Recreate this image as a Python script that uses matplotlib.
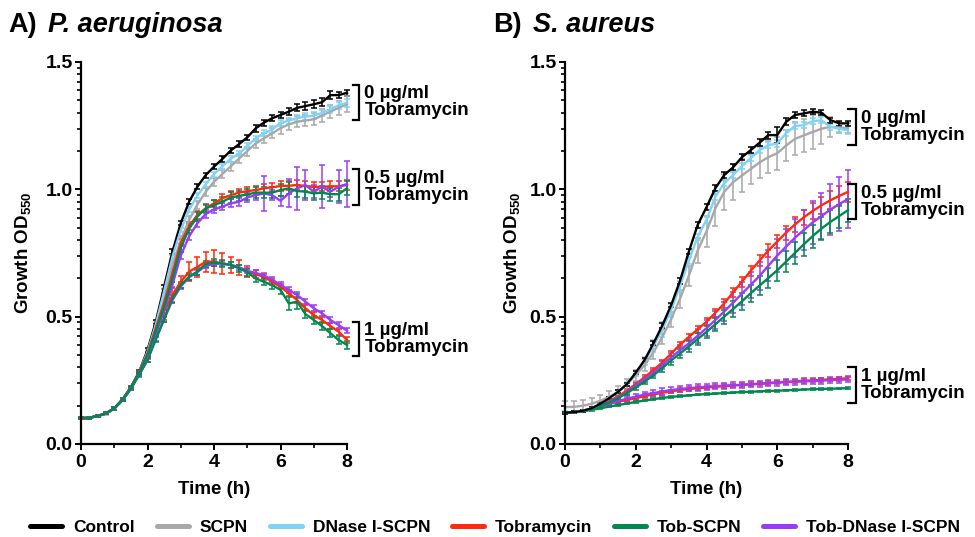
import numpy as np
import matplotlib
matplotlib.use("Agg")
import matplotlib.pyplot as plt
from matplotlib.lines import Line2D

plt.rcParams['font.family'] = ['Liberation Sans', 'DejaVu Sans']
plt.rcParams['font.weight'] = 'bold'
plt.rcParams['mathtext.fontset'] = 'custom'
plt.rcParams['mathtext.rm'] = 'Liberation Sans:bold'
plt.rcParams['mathtext.bf'] = 'Liberation Sans:bold'

# Sampling times (h), every 15 min
time_h = [0.0, 0.25, 0.5, 0.75, 1.0, 1.25, 1.5, 1.75, 2.0, 2.25, 2.5, 2.75, 3.0,
          3.25, 3.5, 3.75, 4.0, 4.25, 4.5, 4.75, 5.0, 5.25, 5.5, 5.75, 6.0,
          6.25, 6.5, 6.75, 7.0, 7.25, 7.5, 7.75, 8.0]

series_names = ["Control", "SCPN", "DNase I-SCPN", "Tobramycin", "Tob-SCPN", "Tob-DNase I-SCPN"]
series_colors = ["#000000", "#a8a8a8", "#7fd3f7", "#ff2a0a", "#00894f", "#9a3cf7"]

# ---------------- P. aeruginosa (OD550) ----------------
pa_control = [0.101, 0.103, 0.110, 0.120, 0.140, 0.175, 0.223, 0.284, 0.369, 0.480, 0.618, 0.755, 0.867,
              0.951, 1.010, 1.056, 1.089, 1.119, 1.152, 1.177, 1.204, 1.239, 1.262, 1.279, 1.292,
              1.305, 1.320, 1.327, 1.334, 1.342, 1.370, 1.370, 1.379]
pa_scpn = [0.101, 0.103, 0.110, 0.120, 0.139, 0.173, 0.219, 0.277, 0.352, 0.455, 0.580, 0.705, 0.800,
           0.880, 0.940, 0.990, 1.030, 1.060, 1.090, 1.120, 1.150, 1.180, 1.200, 1.220, 1.240,
           1.255, 1.265, 1.270, 1.275, 1.290, 1.305, 1.320, 1.335]
pa_dnase = [0.101, 0.103, 0.110, 0.120, 0.140, 0.175, 0.222, 0.282, 0.362, 0.470, 0.600, 0.735, 0.840,
            0.920, 0.975, 1.020, 1.060, 1.090, 1.120, 1.140, 1.170, 1.200, 1.220, 1.235, 1.260,
            1.270, 1.280, 1.285, 1.290, 1.300, 1.315, 1.330, 1.340]
pa_tob05 = [0.101, 0.103, 0.110, 0.120, 0.140, 0.175, 0.222, 0.282, 0.355, 0.455, 0.555, 0.670, 0.790,
            0.855, 0.899, 0.925, 0.945, 0.965, 0.977, 0.987, 0.993, 0.997, 1.004, 1.008, 1.013,
            1.014, 1.017, 1.013, 1.010, 1.010, 1.012, 1.012, 1.017]
pa_tobscpn05 = [0.101, 0.103, 0.110, 0.120, 0.140, 0.175, 0.221, 0.280, 0.350, 0.445, 0.540, 0.650, 0.770,
                0.845, 0.893, 0.925, 0.938, 0.951, 0.968, 0.974, 0.980, 0.987, 0.987, 0.987, 0.997,
                1.004, 0.993, 0.991, 0.984, 0.987, 0.981, 0.981, 1.004]
pa_tobdnase05 = [0.101, 0.103, 0.110, 0.120, 0.140, 0.174, 0.220, 0.278, 0.345, 0.435, 0.525, 0.625, 0.740,
                 0.815, 0.867, 0.903, 0.921, 0.932, 0.945, 0.951, 0.968, 0.977, 0.984, 0.977, 0.955,
                 0.984, 1.004, 1.017, 0.991, 1.010, 0.991, 1.010, 1.021]
pa_tob1 = [0.101, 0.103, 0.110, 0.120, 0.140, 0.174, 0.220, 0.278, 0.345, 0.440, 0.520, 0.585, 0.637,
           0.677, 0.695, 0.716, 0.716, 0.709, 0.703, 0.694, 0.677, 0.666, 0.657, 0.637, 0.618,
           0.592, 0.565, 0.533, 0.506, 0.487, 0.463, 0.441, 0.408]
pa_tobscpn1 = [0.101, 0.103, 0.110, 0.120, 0.139, 0.172, 0.217, 0.272, 0.330, 0.410, 0.490, 0.572, 0.624,
               0.657, 0.677, 0.707, 0.712, 0.709, 0.703, 0.690, 0.675, 0.650, 0.637, 0.624, 0.605,
               0.552, 0.559, 0.510, 0.487, 0.463, 0.435, 0.408, 0.389]
pa_tobdnase1 = [0.101, 0.103, 0.110, 0.120, 0.139, 0.172, 0.217, 0.272, 0.330, 0.415, 0.490, 0.565, 0.618,
                0.655, 0.675, 0.700, 0.707, 0.709, 0.703, 0.694, 0.680, 0.672, 0.662, 0.645, 0.625,
                0.605, 0.585, 0.559, 0.533, 0.513, 0.487, 0.467, 0.445]

pa_control_err = [0.004, 0.004, 0.004, 0.004, 0.005, 0.005, 0.006, 0.006, 0.007, 0.008, 0.008, 0.009, 0.009,
                  0.010, 0.010, 0.010, 0.010, 0.011, 0.011, 0.011, 0.011, 0.012, 0.012, 0.012, 0.012,
                  0.013, 0.014, 0.014, 0.015, 0.015, 0.016, 0.012, 0.012]
pa_scpn_err = [0.004, 0.004, 0.004, 0.005, 0.005, 0.006, 0.007, 0.008, 0.010, 0.012, 0.013, 0.014, 0.015,
               0.015, 0.016, 0.016, 0.016, 0.017, 0.017, 0.018, 0.018, 0.019, 0.020, 0.020, 0.021,
               0.022, 0.022, 0.023, 0.024, 0.025, 0.026, 0.028, 0.030]
pa_dnase_err = [0.004, 0.004, 0.004, 0.004, 0.005, 0.005, 0.006, 0.006, 0.007, 0.008, 0.008, 0.009, 0.009,
                0.009, 0.010, 0.010, 0.010, 0.010, 0.011, 0.011, 0.011, 0.011, 0.012, 0.012, 0.012,
                0.012, 0.012, 0.013, 0.013, 0.013, 0.014, 0.014, 0.015]
pa_tob05_err = [0.004, 0.004, 0.004, 0.004, 0.005, 0.005, 0.006, 0.007, 0.008, 0.010, 0.012, 0.013, 0.014,
                0.015, 0.015, 0.015, 0.015, 0.016, 0.016, 0.016, 0.016, 0.017, 0.017, 0.017, 0.018,
                0.018, 0.018, 0.018, 0.018, 0.018, 0.019, 0.019, 0.020]
pa_tobscpn05_err = [0.004, 0.004, 0.004, 0.004, 0.005, 0.005, 0.006, 0.007, 0.009, 0.011, 0.013, 0.015, 0.016,
                    0.017, 0.018, 0.018, 0.019, 0.019, 0.020, 0.020, 0.021, 0.021, 0.022, 0.022, 0.023,
                    0.023, 0.024, 0.024, 0.025, 0.025, 0.026, 0.026, 0.028]
pa_tobdnase05_err = [0.004, 0.004, 0.004, 0.004, 0.005, 0.005, 0.006, 0.007, 0.008, 0.010, 0.011, 0.012, 0.013,
                     0.013, 0.014, 0.014, 0.015, 0.015, 0.016, 0.016, 0.018, 0.020, 0.070, 0.020, 0.020,
                     0.055, 0.085, 0.060, 0.025, 0.085, 0.020, 0.065, 0.090]
pa_tob1_err = [0.004, 0.004, 0.004, 0.004, 0.005, 0.005, 0.006, 0.007, 0.010, 0.015, 0.033, 0.033, 0.023,
               0.036, 0.039, 0.039, 0.046, 0.042, 0.033, 0.029, 0.022, 0.016, 0.012, 0.012, 0.011,
               0.011, 0.011, 0.011, 0.011, 0.011, 0.011, 0.012, 0.012]
pa_tobscpn1_err = [0.004, 0.004, 0.004, 0.004, 0.005, 0.005, 0.006, 0.007, 0.009, 0.011, 0.012, 0.013, 0.013,
                   0.013, 0.013, 0.013, 0.013, 0.013, 0.013, 0.013, 0.014, 0.014, 0.014, 0.015, 0.015,
                   0.025, 0.030, 0.016, 0.016, 0.016, 0.016, 0.016, 0.016]
pa_tobdnase1_err = [0.004, 0.004, 0.004, 0.004, 0.005, 0.005, 0.006, 0.006, 0.008, 0.009, 0.010, 0.010, 0.010,
                    0.010, 0.010, 0.010, 0.010, 0.010, 0.010, 0.010, 0.010, 0.010, 0.010, 0.010, 0.011,
                    0.011, 0.011, 0.011, 0.011, 0.011, 0.011, 0.011, 0.011]

# ---------------- S. aureus (OD550) ----------------
sa_control = [0.123, 0.125, 0.130, 0.140, 0.158, 0.180, 0.205, 0.235, 0.280, 0.330, 0.395, 0.465, 0.545,
              0.640, 0.755, 0.860, 0.930, 1.004, 1.056, 1.086, 1.126, 1.154, 1.183, 1.213, 1.213,
              1.265, 1.292, 1.298, 1.305, 1.301, 1.272, 1.259, 1.259]
sa_scpn = [0.145, 0.146, 0.150, 0.158, 0.170, 0.185, 0.205, 0.235, 0.270, 0.310, 0.360, 0.420, 0.490,
           0.570, 0.660, 0.760, 0.835, 0.925, 0.990, 1.028, 1.054, 1.080, 1.106, 1.126, 1.142,
           1.172, 1.198, 1.212, 1.225, 1.238, 1.245, 1.243, 1.240]
sa_dnase = [0.123, 0.125, 0.130, 0.140, 0.158, 0.180, 0.205, 0.235, 0.278, 0.325, 0.385, 0.450, 0.525,
            0.620, 0.720, 0.814, 0.880, 0.971, 1.024, 1.056, 1.091, 1.122, 1.154, 1.174, 1.180,
            1.220, 1.249, 1.252, 1.268, 1.271, 1.246, 1.238, 1.232]
sa_tob05 = [0.123, 0.125, 0.130, 0.140, 0.153, 0.168, 0.187, 0.210, 0.235, 0.262, 0.290, 0.320, 0.355,
            0.390, 0.420, 0.450, 0.480, 0.515, 0.552, 0.595, 0.637, 0.680, 0.720, 0.760, 0.795,
            0.830, 0.862, 0.890, 0.915, 0.937, 0.957, 0.974, 0.990]
sa_tobscpn05 = [0.123, 0.125, 0.130, 0.138, 0.150, 0.163, 0.180, 0.200, 0.222, 0.245, 0.270, 0.298, 0.328,
                0.355, 0.383, 0.412, 0.440, 0.470, 0.500, 0.530, 0.560, 0.592, 0.622, 0.652, 0.682,
                0.716, 0.750, 0.784, 0.816, 0.846, 0.872, 0.895, 0.918]
sa_tobdnase05 = [0.123, 0.125, 0.130, 0.139, 0.151, 0.165, 0.183, 0.205, 0.230, 0.255, 0.280, 0.310, 0.340,
                 0.368, 0.395, 0.425, 0.455, 0.487, 0.520, 0.555, 0.590, 0.625, 0.660, 0.700, 0.740,
                 0.775, 0.810, 0.840, 0.870, 0.895, 0.920, 0.942, 0.962]
sa_tob1 = [0.123, 0.125, 0.130, 0.138, 0.148, 0.158, 0.166, 0.173, 0.180, 0.188, 0.195, 0.201, 0.207,
           0.212, 0.216, 0.219, 0.222, 0.225, 0.227, 0.230, 0.232, 0.235, 0.237, 0.240, 0.242,
           0.244, 0.246, 0.248, 0.250, 0.252, 0.254, 0.256, 0.258]
sa_tobscpn1 = [0.123, 0.124, 0.128, 0.134, 0.140, 0.147, 0.153, 0.159, 0.165, 0.171, 0.176, 0.181, 0.185,
               0.188, 0.191, 0.194, 0.196, 0.198, 0.200, 0.202, 0.204, 0.205, 0.207, 0.208, 0.209,
               0.211, 0.212, 0.214, 0.215, 0.216, 0.217, 0.218, 0.219]
sa_tobdnase1 = [0.123, 0.125, 0.130, 0.139, 0.148, 0.158, 0.168, 0.178, 0.186, 0.194, 0.200, 0.206, 0.212,
                0.216, 0.219, 0.222, 0.225, 0.227, 0.229, 0.231, 0.232, 0.234, 0.236, 0.238, 0.241,
                0.243, 0.244, 0.246, 0.247, 0.249, 0.251, 0.252, 0.254]

sa_control_err = [0.004, 0.004, 0.004, 0.004, 0.005, 0.005, 0.006, 0.006, 0.007, 0.008, 0.008, 0.009, 0.009,
                  0.010, 0.010, 0.012, 0.012, 0.012, 0.012, 0.012, 0.012, 0.012, 0.013, 0.014, 0.030,
                  0.014, 0.012, 0.012, 0.010, 0.010, 0.010, 0.010, 0.010]
sa_scpn_err = [0.022, 0.022, 0.022, 0.022, 0.022, 0.022, 0.022, 0.022, 0.022, 0.024, 0.026, 0.028, 0.030,
               0.035, 0.040, 0.050, 0.060, 0.068, 0.070, 0.070, 0.065, 0.060, 0.060, 0.062, 0.065,
               0.062, 0.065, 0.065, 0.065, 0.060, 0.040, 0.022, 0.020]
sa_dnase_err = [0.005, 0.005, 0.005, 0.005, 0.006, 0.006, 0.007, 0.008, 0.010, 0.015, 0.025, 0.030, 0.025,
                0.020, 0.015, 0.012, 0.012, 0.012, 0.012, 0.012, 0.012, 0.012, 0.012, 0.012, 0.012,
                0.012, 0.012, 0.012, 0.012, 0.012, 0.012, 0.012, 0.015]
sa_tob05_err = [0.004, 0.004, 0.004, 0.004, 0.005, 0.005, 0.006, 0.006, 0.007, 0.008, 0.008, 0.009, 0.010,
                0.011, 0.012, 0.013, 0.014, 0.016, 0.017, 0.018, 0.019, 0.020, 0.022, 0.024, 0.025,
                0.027, 0.028, 0.030, 0.032, 0.034, 0.036, 0.038, 0.040]
sa_tobscpn05_err = [0.004, 0.004, 0.004, 0.004, 0.005, 0.005, 0.006, 0.007, 0.008, 0.010, 0.012, 0.014, 0.016,
                    0.018, 0.020, 0.022, 0.024, 0.026, 0.028, 0.030, 0.032, 0.034, 0.036, 0.038, 0.040,
                    0.042, 0.043, 0.044, 0.045, 0.045, 0.045, 0.045, 0.045]
sa_tobdnase05_err = [0.004, 0.004, 0.004, 0.004, 0.005, 0.005, 0.006, 0.007, 0.008, 0.010, 0.012, 0.014, 0.017,
                     0.020, 0.023, 0.027, 0.030, 0.034, 0.038, 0.042, 0.046, 0.050, 0.055, 0.060, 0.065,
                     0.070, 0.075, 0.080, 0.085, 0.090, 0.100, 0.105, 0.115]
sa_tob1_err = [0.004, 0.004, 0.004, 0.004, 0.005, 0.005, 0.006, 0.006, 0.006, 0.007, 0.007, 0.007, 0.007,
               0.007, 0.007, 0.007, 0.007, 0.007, 0.007, 0.007, 0.007, 0.007, 0.007, 0.007, 0.007,
               0.007, 0.007, 0.007, 0.007, 0.007, 0.007, 0.007, 0.007]
sa_tobscpn1_err = [0.003, 0.003, 0.003, 0.003, 0.003, 0.003, 0.003, 0.003, 0.003, 0.003, 0.003, 0.003, 0.003,
                   0.003, 0.003, 0.003, 0.003, 0.003, 0.003, 0.003, 0.003, 0.003, 0.003, 0.003, 0.003,
                   0.003, 0.003, 0.003, 0.003, 0.003, 0.003, 0.003, 0.003]
sa_tobdnase1_err = [0.004, 0.004, 0.004, 0.005, 0.006, 0.007, 0.008, 0.009, 0.010, 0.011, 0.012, 0.012, 0.012,
                    0.012, 0.012, 0.012, 0.012, 0.012, 0.012, 0.012, 0.012, 0.012, 0.012, 0.012, 0.012,
                    0.012, 0.012, 0.012, 0.012, 0.012, 0.012, 0.012, 0.012]

# Dose-group annotations: (label, bracket bottom, bracket top)
pa_groups = [("0 µg/ml\nTobramycin", 1.272, 1.410),
             ("0.5 µg/ml\nTobramycin", 0.938, 1.078),
             ("1 µg/ml\nTobramycin", 0.347, 0.480)]
sa_groups = [("0 µg/ml\nTobramycin", 1.174, 1.314),
             ("0.5 µg/ml\nTobramycin", 0.882, 1.020),
             ("1 µg/ml\nTobramycin", 0.162, 0.301)]

pa_series = [
    (pa_control, pa_control_err, 0), (pa_scpn, pa_scpn_err, 1), (pa_dnase, pa_dnase_err, 2),
    (pa_tob1, pa_tob1_err, 3), (pa_tobdnase1, pa_tobdnase1_err, 5), (pa_tobscpn1, pa_tobscpn1_err, 4),
    (pa_tob05, pa_tob05_err, 3), (pa_tobdnase05, pa_tobdnase05_err, 5), (pa_tobscpn05, pa_tobscpn05_err, 4),
]
sa_series = [
    (sa_tob1, sa_tob1_err, 3), (sa_tobdnase1, sa_tobdnase1_err, 5), (sa_tobscpn1, sa_tobscpn1_err, 4),
    (sa_tob05, sa_tob05_err, 3), (sa_tobdnase05, sa_tobdnase05_err, 5), (sa_tobscpn05, sa_tobscpn05_err, 4),
    (sa_scpn, sa_scpn_err, 1), (sa_dnase, sa_dnase_err, 2), (sa_control, sa_control_err, 0),
]

TICK_FS = 14
LABEL_FS = 13.5

fig = plt.figure(figsize=(9.75, 5.37), dpi=100)
ax_pa = fig.add_axes([81 / 975, 93 / 537, 266 / 975, 382 / 537])
ax_sa = fig.add_axes([565 / 975, 93 / 537, 283 / 975, 382 / 537])


def style_axes(ax):
    ax.set_xlim(0, 8)
    ax.set_ylim(0, 1.5)
    for side in ("top", "right"):
        ax.spines[side].set_visible(False)
    for side in ("left", "bottom"):
        ax.spines[side].set_linewidth(1.6)
    ax.set_xticks([0, 2, 4, 6, 8])
    ax.set_xticks([1, 3, 5, 7], minor=True)
    ax.set_yticks([0.0, 0.5, 1.0, 1.5])
    ax.set_yticklabels(["0.0", "0.5", "1.0", "1.5"])
    # log-spaced minor ticks within every 0.5 step
    minor_y = [b + 0.5 * np.log10(k) for b in (0.0, 0.5, 1.0) for k in range(2, 10)]
    ax.set_yticks(minor_y, minor=True)
    ax.tick_params(which="major", direction="out", length=4.5, width=1.4,
                   labelsize=TICK_FS, pad=1.5)
    ax.tick_params(axis="x", which="major", pad=2.5)
    ax.tick_params(which="minor", direction="out", length=2.8, width=1.2)
    ax.set_xlabel("Time (h)", fontsize=LABEL_FS, fontweight="bold")
    ax.xaxis.set_label_coords(0.5, -0.098)
    ax.set_ylabel(r"Growth OD$_{550}$", fontsize=LABEL_FS, fontweight="bold")
    for lab in ax.get_xticklabels() + ax.get_yticklabels():
        lab.set_fontweight("bold")


def draw_series(ax, series):
    for vals, errs, ci in series:
        ax.errorbar(time_h, vals, yerr=errs, color=series_colors[ci], lw=1.7,
                    elinewidth=1.1, capsize=2.2, capthick=1.1, clip_on=False)


def draw_groups(ax, groups, x_arm, x_bar, x_text):
    for label, lo, hi in groups:
        ax.plot([x_arm, x_bar, x_bar, x_arm], [hi, hi, lo, lo], color="black",
                lw=1.6, clip_on=False, solid_joinstyle="miter")
        ax.text(x_text, (lo + hi) / 2, label, fontsize=LABEL_FS, fontweight="bold",
                va="center", ha="left", linespacing=1.0, clip_on=False)


style_axes(ax_pa)
style_axes(ax_sa)
ax_pa.yaxis.set_label_coords(-0.175, 0.5)
ax_sa.yaxis.set_label_coords(-0.148, 0.5)

draw_series(ax_pa, pa_series)
draw_series(ax_sa, sa_series)

draw_groups(ax_pa, pa_groups, 8.18, 8.37, 8.52)
draw_groups(ax_sa, sa_groups, 8.01, 8.22, 8.36)

# Panel titles
TITLE_FS = 19.5
fig.text(8 / 975, 1 - 25 / 537, "A)", fontsize=TITLE_FS, fontweight="bold", va="center", ha="left")
fig.text(48 / 975, 1 - 25 / 537, "P. aeruginosa", fontsize=TITLE_FS, fontweight="bold",
         style="italic", va="center", ha="left")
fig.text(493 / 975, 1 - 25 / 537, "B)", fontsize=TITLE_FS, fontweight="bold", va="center", ha="left")
fig.text(533 / 975, 1 - 25 / 537, "S. aureus", fontsize=TITLE_FS, fontweight="bold",
         style="italic", va="center", ha="left")

# Legend along the bottom
handles = [Line2D([0], [0], color=c, lw=3.6, solid_capstyle="round") for c in series_colors]
fig.legend(handles, series_names, ncol=6, loc="center", bbox_to_anchor=(0.508, 10 / 537),
           frameon=False, prop={"weight": "bold", "size": 12.5}, handlelength=1.85,
           handletextpad=0.63, columnspacing=1.25, borderaxespad=0, borderpad=0)

fig.savefig("out.png", dpi=100)
